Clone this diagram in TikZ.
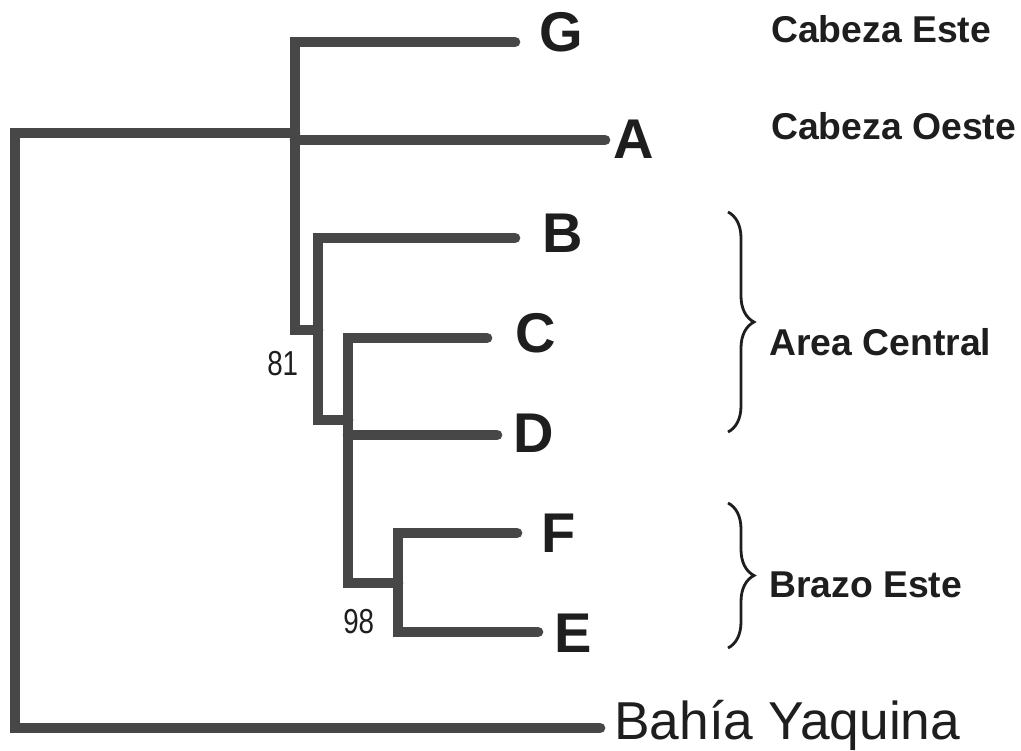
\documentclass[tikz,border=0pt]{standalone}
\usepackage{fontspec}
\setmainfont{Liberation Sans}
\newfontfamily\narrowsans[FakeStretch=0.8]{Liberation Sans}
\usetikzlibrary{decorations.pathreplacing}
\definecolor{branchgray}{HTML}{474747}
\definecolor{ink}{HTML}{1E1E1E}
\begin{document}
\begin{tikzpicture}[x=0.75pt, y=-0.75pt,
  branch/.style={draw=branchgray, line width=8pt, line cap=round, line join=miter},
  taxon/.style={anchor=base west, inner sep=0pt, text=ink,
    font=\bfseries\fontsize{42}{42}\selectfont},
  region/.style={anchor=base west, inner sep=0pt, text=ink,
    font=\bfseries\fontsize{28}{28}\selectfont},
  support/.style={anchor=base west, inner sep=0pt, text=ink,
    font=\narrowsans\fontsize{26}{26}\selectfont},
  outgroup/.style={anchor=base west, inner sep=0pt, text=ink,
    font=\fontsize{40}{40}\selectfont},
  bracket/.style={draw=ink, line width=2.1pt,
    decorate, decoration={brace, amplitude=19.5pt}}]
\useasboundingbox (0,0) rectangle (1021,750);

% internal nodes
\coordinate (root) at (15,133);
\coordinate (n1) at (295,133);
\coordinate (n2) at (318,330);
\coordinate (n3) at (348,420);
\coordinate (n4) at (398,583);

% branch tips
\coordinate (Gt) at (515,42);
\coordinate (At) at (605,140);
\coordinate (Bt) at (515,238);
\coordinate (Ct) at (487,338);
\coordinate (Dt) at (497,435);
\coordinate (Ft) at (517,533);
\coordinate (Et) at (538,632);
\coordinate (Yt) at (600,728);

% branches
\draw[branch] (n1) -- (root) |- (Yt);
\draw[branch] (Gt) -| (n1) |- (n2);
\draw[branch] (n1 |- At) -- (At);
\draw[branch] (Bt) -| (n2) |- (n3);
\draw[branch] (Ct) -| (n3) |- (n4);
\draw[branch] (n3 |- Dt) -- (Dt);
\draw[branch] (Ft) -| (n4) |- (Et);

% taxon labels
\node[taxon] (G) at (539,51) {G};
\node[taxon] (A) at (613,158) {A};
\node[taxon] (B) at (542,252) {B};
\node[taxon] (C) at (515,352) {C};
\node[taxon] (D) at (513,452) {D};
\node[taxon] (F) at (541,552) {F};
\node[taxon] (E) at (554,652) {E};
\node[outgroup] (Y) at (614,739) {Bahía Yaquina};

% bootstrap support
\node[support] (s81) at (267,375) {81};
\node[support] (s98) at (343,633) {98};

% sampling regions
\node[region] (cabE) at (771,42) {Cabeza Este};
\node[region] (cabO) at (771,139) {Cabeza Oeste};
\coordinate (br1a) at (728,212);
\coordinate (br1b) at (728,432);
\coordinate (br2a) at (728,503);
\coordinate (br2b) at (728,648);
\draw[bracket] (br1a) -- (br1b);
\draw[bracket] (br2a) -- (br2b);
\node[region] (cen) at (769,355) {Area Central};
\node[region] (brz) at (769,597) {Brazo Este};
\end{tikzpicture}
\end{document}
